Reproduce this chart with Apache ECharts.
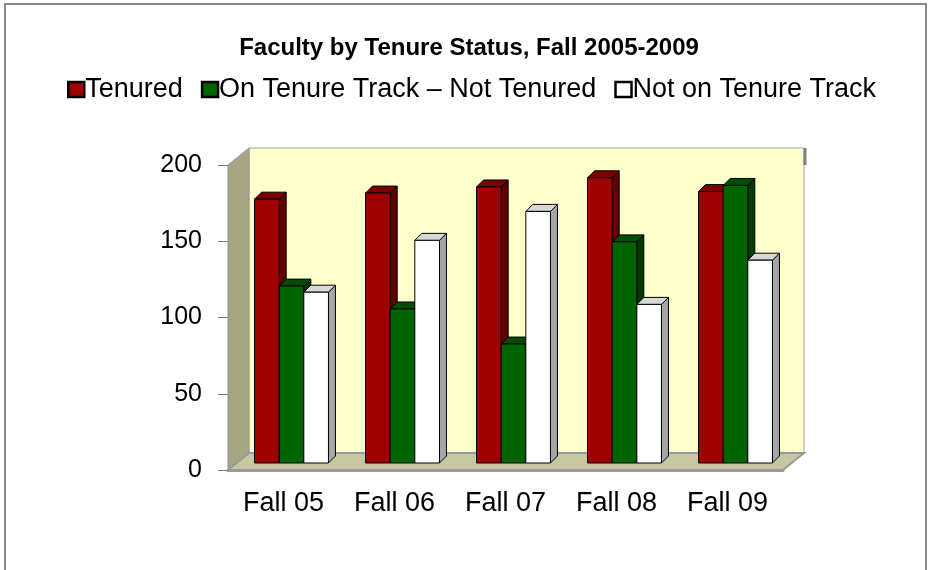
<!DOCTYPE html>
<html>
<head>
<meta charset="utf-8">
<script src="https://cdn.jsdelivr.net/npm/echarts@6/dist/echarts.min.js"></script>
<style>
    html, body { margin: 0; padding: 0; background: #fff; }
    #chart { width: 930px; height: 570px; }
</style>
</head>
<body>
<div id="chart"></div>
<script>
// data
const categories = ['Fall 05', 'Fall 06', 'Fall 07', 'Fall 08', 'Fall 09'];
const tenured = [173, 177, 181, 187, 178];
const onTrack = [116, 101, 78, 145, 182];
const notOnTrack = [112, 146, 165, 104, 133];
const yTicks = [0, 50, 100, 150, 200];

const seriesNames = ['Tenured', 'On Tenure Track \u2013 Not Tenured', 'Not on Tenure Track'];
// front, side, top
const faceColors = [
    ['#A00000', '#600000', '#7A0000'],
    ['#006400', '#003C00', '#004C00'],
    ['#FFFFFF', '#A6A6A6', '#D9D9D9']
];

// depth of the box and of the bars (pixels)
const wallDx = 21, wallDy = -17;
const barShiftX = 8, barShiftY = -7;
const barDx = 7, barDy = -7;

const chart = echarts.init(document.getElementById('chart'));

function wallsItem(params, api) {
    const cs = params.coordSys;
    const x0 = cs.x, y0 = cs.y, x1 = cs.x + cs.width, y1 = cs.y + cs.height;
    return {
        type: 'group',
        children: [
            {
                type: 'rect',
                shape: { x: x0 + wallDx, y: y0 + wallDy, width: x1 - x0, height: y1 - y0 },
                style: { fill: '#FFFFCC', stroke: '#A0A0A0', lineWidth: 1 }
            },
            {
                type: 'polygon',
                shape: { points: [[x0, y1], [x0, y0], [x0 + wallDx, y0 + wallDy], [x0 + wallDx, y1 + wallDy]] },
                style: { fill: '#A6A683', stroke: '#999999', lineWidth: 1 }
            },
            {
                type: 'polygon',
                shape: { points: [[x0, y1], [x0 + wallDx, y1 + wallDy], [x1 + wallDx, y1 + wallDy], [x1, y1]] },
                style: { fill: '#C8C8A0', stroke: '#999999', lineWidth: 2 }
            },
            {
                type: 'line',
                shape: { x1: x1 + wallDx + 1, y1: y0 + wallDy, x2: x1 + wallDx + 1, y2: y0 },
                style: { stroke: '#808080', lineWidth: 3 }
            }
        ]
    };
}

function barRenderer(k) {
    return function (params, api) {
        const idx = api.value(0);
        const val = api.value(1);
        const base = api.coord([idx, 0]);
        const top = api.coord([idx, val]);
        const band = api.size([1, 0])[0];
        const bw = band * 0.222;
        const x = base[0] - 1.5 * bw + k * bw + barShiftX;
        const yb = base[1] + barShiftY;
        const yt = top[1] + barShiftY;
        const c = faceColors[k];
        const edge = { stroke: '#000', lineWidth: 1 };
        return {
            type: 'group',
            children: [
                {
                    type: 'polygon',
                    shape: { points: [[x + bw, yt], [x + bw + barDx, yt + barDy], [x + bw + barDx, yb + barDy], [x + bw, yb]] },
                    style: Object.assign({ fill: c[1] }, edge)
                },
                {
                    type: 'polygon',
                    shape: { points: [[x, yt], [x + barDx, yt + barDy], [x + bw + barDx, yt + barDy], [x + bw, yt]] },
                    style: Object.assign({ fill: c[2] }, edge)
                },
                {
                    type: 'rect',
                    shape: { x: x, y: yt, width: bw, height: yb - yt },
                    style: Object.assign({ fill: c[0] }, edge)
                }
            ]
        };
    };
}

const barSets = [tenured, onTrack, notOnTrack];

const option = {
    animation: false,
    title: {
        text: 'Faculty by Tenure Status, Fall 2005-2009',
        left: 464,
        textAlign: 'center',
        top: 31,
        textStyle: {
            fontFamily: 'Liberation Sans',
            fontSize: 24,
            fontWeight: 'bold',
            color: '#000'
        }
    },
    legend: {
        left: 62,
        top: 71,
        itemWidth: 16,
        itemHeight: 15,
        itemGap: 18,
        selectedMode: false,
        data: seriesNames.map((n, k) => ({
            name: n,
            icon: 'rect',
            itemStyle: { color: faceColors[k][0], borderColor: '#000', borderWidth: 2.5 }
        })),
        textStyle: {
            fontFamily: 'Liberation Sans',
            fontSize: 27,
            color: '#000',
            padding: [0, 0, 0, -4]
        }
    },
    grid: {
        left: 228,
        right: 147,
        top: 165,
        bottom: 100,
        containLabel: false
    },
    xAxis: {
        type: 'category',
        data: categories,
        z: 5,
        axisLine: { lineStyle: { color: '#9A9A9A', width: 3 } },
        axisTick: { show: false },
        axisLabel: {
            margin: 20,
            fontFamily: 'Liberation Sans',
            fontSize: 27,
            color: '#000'
        }
    },
    yAxis: {
        type: 'value',
        min: yTicks[0],
        max: yTicks[yTicks.length - 1],
        interval: 50,
        z: 5,
        axisLine: { show: true, lineStyle: { color: '#999999', width: 1 } },
        axisTick: { show: true, length: 10, lineStyle: { color: '#808080' } },
        splitLine: { show: false },
        axisLabel: {
            margin: 26,
            fontFamily: 'Liberation Sans',
            fontSize: 25,
            color: '#000'
        }
    },
    graphic: [{
        type: 'rect',
        shape: { x: 5, y: 4, width: 921, height: 620 },
        style: { fill: 'none', stroke: '#8A8A8A', lineWidth: 2 },
        silent: true
    }],
    series: [
        {
            type: 'custom',
            name: 'walls',
            z: 1,
            silent: true,
            renderItem: wallsItem,
            data: [[0, 0]]
        }
    ].concat(barSets.map((vals, k) => ({
        type: 'custom',
        name: seriesNames[k],
        z: 2,
        itemStyle: { color: faceColors[k][0] },
        renderItem: barRenderer(k),
        encode: { x: 0, y: 1 },
        data: vals.map((v, i) => [i, v])
    })))
};

chart.setOption(option);

window.addEventListener('resize', function () {
    chart.resize();
});
</script>
</body>
</html>
